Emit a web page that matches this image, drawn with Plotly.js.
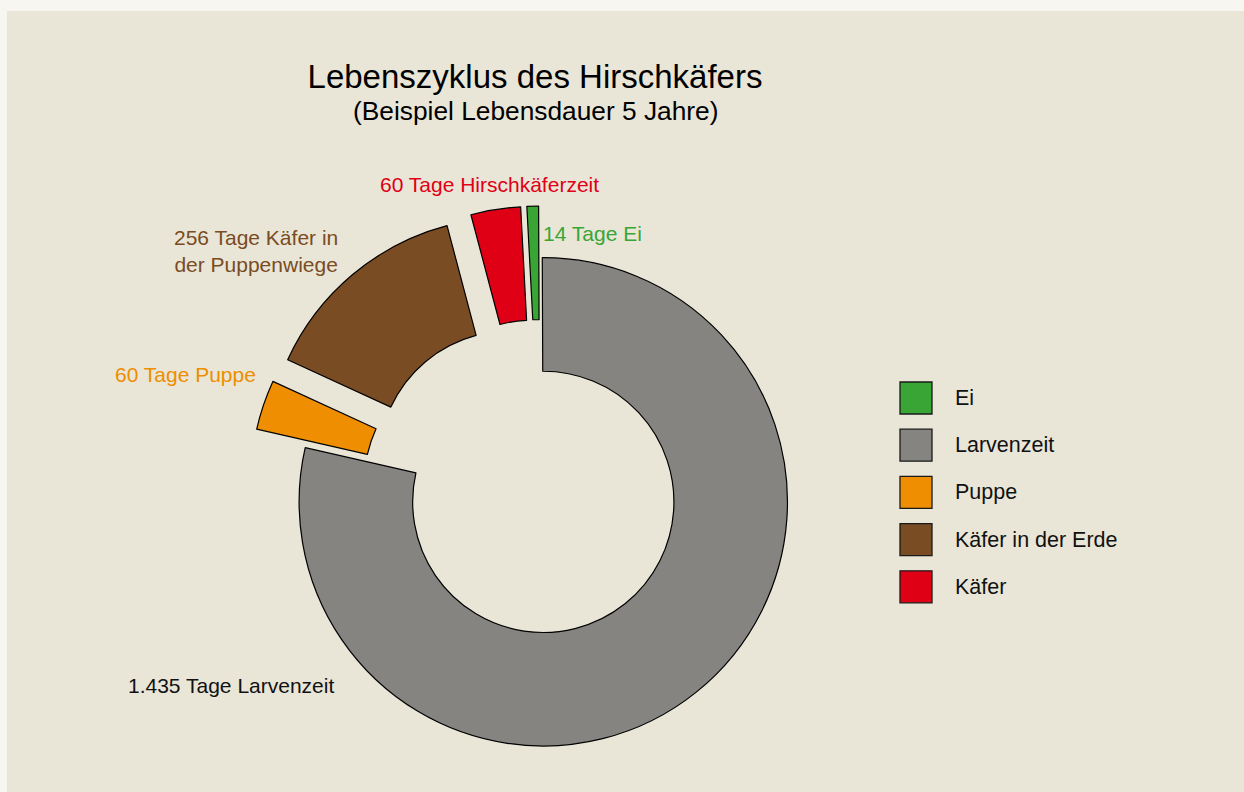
<!DOCTYPE html>
<html>
<head>
<meta charset="utf-8">
<script src="https://cdn.plot.ly/plotly-3.0.1.min.js"></script>
<style>
  html, body { margin: 0; padding: 0; background: #f7f6f1; overflow: hidden; }
  #chart { position: absolute; left: 7px; top: 11px; width: 1237px; height: 781px; }
</style>
</head>
<body>
<div id="chart"></div>
<script>
// ---- data ----
const categories = ['Ei', 'Larvenzeit', 'Puppe', 'Käfer in der Erde', 'Käfer'];
const days = [14, 1435, 60, 256, 60];
const sliceLabels = ['14 Tage Ei', '1.435 Tage Larvenzeit', '60 Tage Puppe', '256 Tage Käfer in<br>der Puppenwiege', '60 Tage Hirschkäferzeit'];
const colors = ['#39a535', '#858480', '#ee8e00', '#7a4c23', '#df0016'];
const labelColors = ['#39a535', '#111111', '#ee8e00', '#7a4c23', '#df0016'];
const pulls = [0.2, 0.015, 0.2, 0.2, 0.2];
const titleText = 'Lebenszyklus des Hirschkäfers';
const subtitleText = '(Beispiel Lebensdauer 5 Jahre)';

// ---- layout helpers ----
const W = 1237, H = 781;
const px = x => x / W;
const py = y => 1 - y / H;
const FONT = 'Liberation Sans, Arial, sans-serif';

// label placement (div pixel coords): [x, y, xanchor]
const labelPos = [
  [534, 222, 'left'],
  [224, 674, 'center'],
  [251, 363, 'right'],
  [249, 240, 'center'],
  [482, 174, 'center']
];

const annotations = [];
categories.forEach((c, i) => {
  const p = labelPos[i];
  annotations.push({
    xref: 'paper', yref: 'paper', x: px(p[0]), y: py(p[1]),
    xanchor: p[2], yanchor: 'middle', showarrow: false, align: 'center',
    text: sliceLabels[i], font: {family: FONT, size: 21, color: labelColors[i]}
  });
});

// subtitle
annotations.push({
  xref: 'paper', yref: 'paper', x: px(528), y: py(100),
  xanchor: 'center', yanchor: 'middle', showarrow: false,
  text: subtitleText, font: {family: FONT, size: 26.3, color: '#000000'}
});

// custom legend (big squares)
const shapes = [];
const legTop = 371, legStep = 47.2, sq = 32, legX = 893, legTextX = 946;
categories.forEach((c, i) => {
  const t = legTop + i * legStep;
  shapes.push({
    type: 'rect', xref: 'paper', yref: 'paper',
    x0: px(legX), x1: px(legX + sq), y0: py(t), y1: py(t + sq),
    fillcolor: colors[i], line: {color: '#1a1a1a', width: 1.3}
  });
  annotations.push({
    xref: 'paper', yref: 'paper', x: px(legTextX), y: py(t + sq / 2),
    xanchor: 'left', yanchor: 'middle', showarrow: false,
    text: c, font: {family: FONT, size: 21.5, color: '#111111'}
  });
});

const trace = {
  type: 'pie',
  labels: categories,
  values: days,
  sort: false,
  direction: 'clockwise',
  rotation: -3,
  hole: 0.535,
  pull: pulls,
  marker: {colors: colors, line: {color: '#000000', width: 1.2}},
  textinfo: 'none',
  hoverinfo: 'label+value',
  showlegend: false,
  domain: {x: [px(534 - 293), px(534 + 293)], y: [0, py(488 - 293)]}
};

const layout = {
  width: W, height: H,
  paper_bgcolor: '#e9e6d7',
  plot_bgcolor: '#e9e6d7',
  margin: {l: 0, r: 0, t: 0, b: 0},
  showlegend: false,
  title: {
    text: titleText,
    font: {family: FONT, size: 33, color: '#000000'},
    xref: 'paper', yref: 'container',
    x: px(528), xanchor: 'center',
    y: py(54), yanchor: 'top'
  },
  annotations: annotations,
  shapes: shapes
};

Plotly.newPlot('chart', [trace], layout, {displayModeBar: false, staticPlot: true});
</script>
</body>
</html>
